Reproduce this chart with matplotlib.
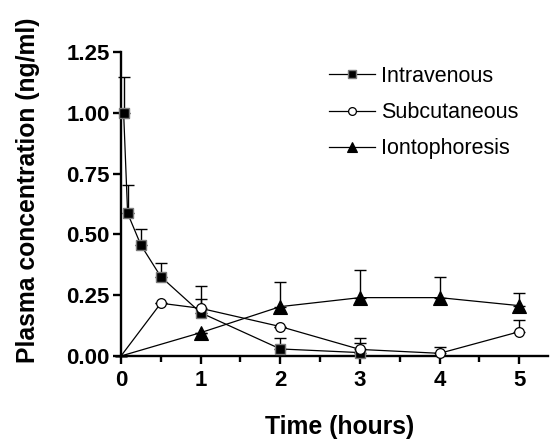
import matplotlib
matplotlib.use("Agg")
import matplotlib.pyplot as plt
import numpy as np
from matplotlib.lines import Line2D

plt.rcParams['font.family'] = ['Liberation Sans', 'DejaVu Sans']

# Sampling times (hours) and mean concentrations (ng/ml) with upper SD
iv_time = [0.033, 0.083, 0.25, 0.5, 1, 2, 3]
iv_conc = [1.00, 0.587, 0.456, 0.326, 0.178, 0.029, 0.014]
iv_err = [0.146, 0.116, 0.065, 0.058, 0.055, 0.044, 0.038]

sc_time = [0, 0.5, 1, 2, 3, 4, 5]
sc_conc = [0.0, 0.217, 0.196, 0.121, 0.027, 0.011, 0.100]
sc_err = [0.0, 0.0, 0.093, 0.0, 0.046, 0.026, 0.048]

io_time = [0, 1, 2, 3, 4, 5]
io_conc = [0.0, 0.096, 0.203, 0.240, 0.240, 0.207]
io_err = [0.0, 0.0, 0.103, 0.114, 0.086, 0.053]

series_labels = ["Intravenous", "Subcutaneous", "Iontophoresis"]
x_ticks = [0, 1, 2, 3, 4, 5]
y_ticks = [0.00, 0.25, 0.50, 0.75, 1.00, 1.25]

fig = plt.figure(figsize=(5.59, 4.41), dpi=100)
ax = fig.add_axes([121 / 559, 1 - 356 / 441, (548 - 121) / 559, (356 - 52) / 441])

styles = [
    dict(marker='s', ms=7.4, mfc='black', mec='#7a7a7a', mew=1.0),
    dict(marker='o', ms=7.0, mfc='white', mec='black', mew=0.9),
    dict(marker='^', ms=9.5, mfc='black', mec='black', mew=0.8),
]
data = [(iv_time, iv_conc, iv_err), (sc_time, sc_conc, sc_err), (io_time, io_conc, io_err)]

for (t, c, e), st, lab in zip(data, styles, series_labels):
    t = np.asarray(t)
    c = np.asarray(c)
    e = np.asarray(e)
    ax.errorbar(t, c, yerr=[np.zeros_like(e), e], fmt='none', ecolor='black',
                elinewidth=1.0, capsize=4.6, capthick=1.0, clip_on=False, zorder=2)
    # points sitting at the origin are hidden under the axes corner
    shown = [i for i in range(len(t)) if not (t[i] == 0 and c[i] == 0)]
    ax.plot(t, c, color='black', lw=0.9, clip_on=False, zorder=3, label=lab,
            markevery=shown, **st)

ax.set_xlim(0, 5.36)
ax.set_ylim(0, 1.25)
ax.set_xticks(x_ticks)
ax.set_xticks(np.arange(0.5, 5.3, 1.0), minor=True)
ax.set_yticks(y_ticks)
ax.set_yticklabels([f"{v:.2f}" for v in y_ticks])
ax.set_xticklabels([str(v) for v in x_ticks])

for side in ['top', 'right']:
    ax.spines[side].set_visible(False)
for side in ['left', 'bottom']:
    ax.spines[side].set_linewidth(1.7)

ax.tick_params(axis='both', which='major', direction='out', length=6, width=1.7,
               labelsize=16, pad=2)
ax.tick_params(axis='x', which='major', pad=4)
ax.tick_params(axis='x', which='minor', direction='out', length=4, width=1.7)
for lab in ax.get_xticklabels() + ax.get_yticklabels():
    lab.set_fontweight('bold')

fig.text(28 / 559, 1 - 190 / 441, "Plasma concentration (ng/ml)", rotation=90,
         ha='center', va='center', fontsize=17.8, fontweight='bold')
fig.text(340 / 559, 1 - 427 / 441, "Time (hours)", ha='center', va='center',
         fontsize=17.8, fontweight='bold')

handles = [Line2D([], [], color='black', lw=0.9, **dict(st, ms=st['ms'] * 0.8))
           for st in styles]
leg = fig.legend(handles, series_labels, loc='upper left',
                 bbox_to_anchor=(329 / 559, 1 - 66 / 441), frameon=False,
                 fontsize=15.5, handlelength=2.15, handletextpad=0.25,
                 labelspacing=0.70, borderpad=0, borderaxespad=0)

fig.savefig("out.png", dpi=100)
